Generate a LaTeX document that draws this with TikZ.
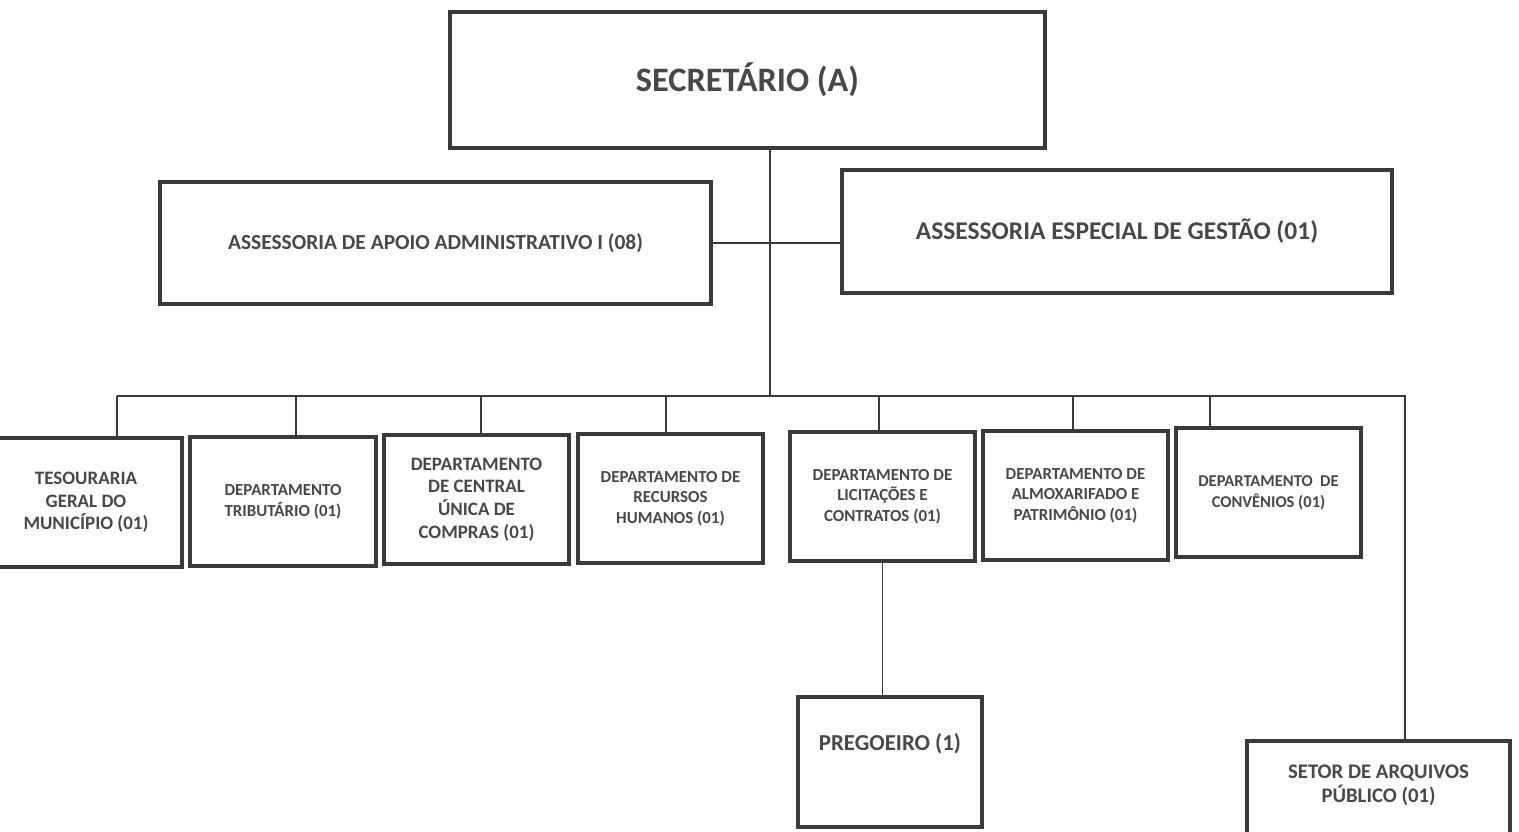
\documentclass[tikz,border=0pt]{standalone}
\usepackage{fontspec}
\setmainfont{Carlito}

\definecolor{boxgray}{HTML}{3A3A3A}
\definecolor{txtgray}{HTML}{484848}

\tikzset{
  orgbox/.style={draw=boxgray, line width=2pt, align=center, text=txtgray,
    inner sep=2pt},
  deptbox/.style={orgbox, minimum width=3.7cm, minimum height=2.58cm},
  orgline/.style={draw=boxgray, line width=1.1pt}
}

\begin{document}
\begin{tikzpicture}[x=0.02cm, y=-0.02cm]
\useasboundingbox (0,0) rectangle (1519,832);

% top level
\node[orgbox, minimum width=11.9cm, minimum height=2.72cm,
  font=\bfseries\fontsize{19.5}{22}\selectfont] (sec) at (747.5,80)
  {SECRETÁRIO (A)};
\node[orgbox, minimum width=11.02cm, minimum height=2.44cm,
  font=\bfseries\fontsize{12.2}{14}\selectfont] (apoio) at (435.5,243)
  {ASSESSORIA DE APOIO ADMINISTRATIVO I (08)};
\node[orgbox, minimum width=11cm, minimum height=2.46cm,
  font=\bfseries\fontsize{14.5}{16}\selectfont] (espec) at (1117,231.5)
  {ASSESSORIA ESPECIAL DE GESTÃO (01)};

% departments
\node[deptbox, minimum width=3.84cm, font=\bfseries\fontsize{10.8}{12.8}\selectfont]
  (teso) at (86,502.5) {TESOURARIA\\GERAL DO\\MUNICÍPIO (01)};
\node[deptbox, minimum width=3.72cm, font=\bfseries\fontsize{9.6}{12}\selectfont]
  (trib) at (283,501.5) {DEPARTAMENTO\\TRIBUTÁRIO (01)};
\node[deptbox, font=\bfseries\fontsize{10.8}{13}\selectfont]
  (comp) at (476.5,499.5) {DEPARTAMENTO\\DE CENTRAL\\ÚNICA DE\\COMPRAS (01)};
\node[deptbox, font=\bfseries\fontsize{9.6}{11.8}\selectfont]
  (rh) at (670.5,498.5) {DEPARTAMENTO DE\\RECURSOS\\HUMANOS (01)};
\node[deptbox, font=\bfseries\fontsize{9.6}{11.8}\selectfont]
  (lic) at (882.5,496.5) {DEPARTAMENTO DE\\LICITAÇÕES E\\CONTRATOS (01)};
\node[deptbox, font=\bfseries\fontsize{9.6}{11.8}\selectfont]
  (alm) at (1075.5,495.5) {DEPARTAMENTO DE\\ALMOXARIFADO E\\PATRIMÔNIO (01)};
\node[deptbox, font=\bfseries\fontsize{9.4}{12}\selectfont]
  (conv) at (1268.5,492.5) {DEPARTAMENTO\ \ DE\\CONVÊNIOS (01)};

% lower level
\node[orgbox, minimum width=3.68cm, minimum height=2.6cm, text height=0.3cm,
  text depth=0.75cm, font=\bfseries\fontsize{13}{15}\selectfont]
  (preg) at (890,762) {PREGOEIRO (1)};
\node[orgbox, minimum width=5.26cm, minimum height=2.6cm, text height=0.7cm,
  text depth=0.83cm, font=\bfseries\fontsize{11.8}{14}\selectfont]
  (arq) at (1378.5,806) {SETOR DE ARQUIVOS\\PÚBLICO (01)};

% connectors
\coordinate (bus) at (770,396);
\draw[orgline] (sec.south -| bus) -- (bus);
\draw[orgline] (apoio.east) -- (apoio.east -| espec.west);
\draw[orgline] ([xshift=0.62cm]teso.north |- bus) -- ([xshift=0.53cm]arq.north |- bus)
  -- ([xshift=0.53cm]arq.north);
\foreach \n/\dx in {teso/0.62, trib/0.26, comp/0.09, rh/-0.09, lic/-0.07,
  alm/-0.05, conv/-1.17}
  \draw[orgline] ([xshift=\dx cm]\n.north) -- ([xshift=\dx cm]\n.north |- bus);
\draw[orgline] (lic.south) -- (lic.south |- preg.north);
\end{tikzpicture}
\end{document}
